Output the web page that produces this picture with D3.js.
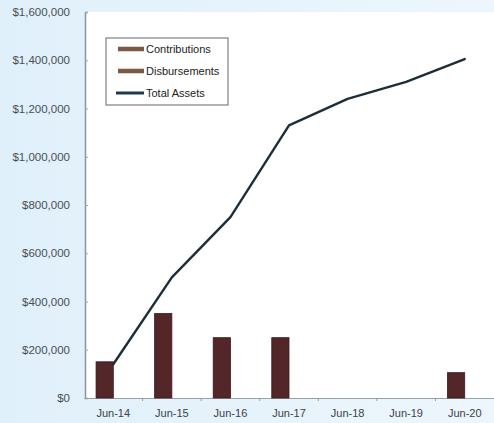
<!DOCTYPE html>
<html>
<head>
<meta charset="utf-8">
<script src="https://cdn.jsdelivr.net/npm/d3@7"></script>
<style>
  html, body { margin: 0; padding: 0; }
  body { width: 494px; height: 423px; overflow: hidden; }
  svg { display: block; }
</style>
</head>
<body>
<svg id="chart" width="494" height="423"></svg>
<script>
// Fund history: annual contributions, disbursements and total assets
const periods = ["Jun-14", "Jun-15", "Jun-16", "Jun-17", "Jun-18", "Jun-19", "Jun-20"];
const contributions = [150000, 350000, 250000, 250000, 0, 0, 105000];
const disbursements = [0, 0, 0, 0, 0, 0, 0];
const totalAssets = [140000, 500000, 750000, 1130000, 1240000, 1310000, 1405000];
const yTicks = [0, 200000, 400000, 600000, 800000, 1000000, 1200000, 1400000, 1600000];
const seriesNames = ["Contributions", "Disbursements", "Total Assets"];

const svg = d3.select("#chart");
const W = 494, H = 423;
const plot = { left: 85, right: 494, top: 12, bottom: 398 };

// Backdrop: pale blue page with a white plotting area
const defs = svg.append("defs");
const grad = defs.append("linearGradient").attr("id", "bg").attr("x1", 0).attr("x2", 1).attr("y1", 0).attr("y2", 0);
grad.append("stop").attr("offset", "0%").attr("stop-color", "#e0f0fa");
grad.append("stop").attr("offset", "100%").attr("stop-color", "#edf6fc");
svg.append("rect").attr("width", W).attr("height", H).attr("fill", "url(#bg)");
svg.append("rect")
  .attr("x", plot.left).attr("y", plot.top)
  .attr("width", plot.right - plot.left).attr("height", plot.bottom - plot.top)
  .attr("fill", "#ffffff");

const x = d3.scaleBand().domain(periods).range([84, 494]).paddingInner(0).paddingOuter(0);
const xSub = d3.scaleBand().domain(["c", "d"]).range([0, x.bandwidth()]).paddingOuter(0.7).paddingInner(0);
const y = d3.scaleLinear().domain([0, 1600000]).range([plot.bottom, plot.top]);

const money = d3.format("$,");
const font = "'Liberation Sans', Arial, sans-serif";

// Y axis
const yAxis = svg.append("g")
  .attr("transform", `translate(${plot.left},0)`)
  .call(d3.axisLeft(y).tickValues(yTicks).tickFormat(money).tickSize(-3).tickPadding(15));
yAxis.select(".domain").attr("stroke", "#8d9499").attr("stroke-width", 1.5);
yAxis.selectAll(".tick line").attr("stroke", "#a0a6aa");
yAxis.selectAll(".tick text")
  .attr("font-family", font).attr("font-size", 11.5).attr("fill", "#4a4f55");

// X axis
const xAxis = svg.append("g")
  .attr("transform", `translate(0,${plot.bottom})`)
  .call(d3.axisBottom(x).tickSize(0).tickPadding(11));
xAxis.select(".domain").attr("stroke", "#9aa0a4").attr("stroke-width", 1.2);
xAxis.selectAll(".tick text")
  .attr("font-family", font).attr("font-size", 11).attr("fill", "#3b4148");
// small marks between categories
xAxis.selectAll(".sep")
  .data(periods.slice(1))
  .join("line")
  .attr("class", "sep")
  .attr("x1", d => x(d)).attr("x2", d => x(d))
  .attr("y1", 0).attr("y2", 3)
  .attr("stroke", "#9aa0a4");

// Bars
const barData = periods.flatMap((p, i) => [
  { period: p, key: "c", value: contributions[i] },
  { period: p, key: "d", value: disbursements[i] }
]).filter(d => d.value > 0);

svg.append("g").selectAll("rect")
  .data(barData)
  .join("rect")
  .attr("x", d => x(d.period) + xSub(d.key))
  .attr("y", d => y(d.value))
  .attr("width", xSub.bandwidth())
  .attr("height", d => y(0) - y(d.value))
  .attr("fill", d => d.key === "c" ? "#532629" : "#7a5a44")
  .attr("stroke", "#3a1a1c").attr("stroke-width", 0.8);

// Total assets line
const line = d3.line()
  .x((d, i) => x(periods[i]) + x.bandwidth() / 2)
  .y(d => y(d));
svg.append("path")
  .datum(totalAssets)
  .attr("d", line)
  .attr("fill", "none")
  .attr("stroke", "#1d2e38")
  .attr("stroke-width", 2.4)
  .attr("stroke-linejoin", "round")
  .attr("stroke-linecap", "round");

// Legend
const legend = svg.append("g").attr("transform", "translate(106,38)");
legend.append("rect")
  .attr("width", 122).attr("height", 67)
  .attr("fill", "#ffffff").attr("stroke", "#7d7f82").attr("stroke-width", 1.2);
const legendColors = ["#7a5a44", "#7a5a44", "#1d3a50"];
const rows = legend.selectAll("g.item")
  .data(seriesNames)
  .join("g")
  .attr("class", "item")
  .attr("transform", (d, i) => `translate(0,${11 + i * 22})`);
rows.append("line")
  .attr("x1", (d, i) => i === 2 ? 10 : 12).attr("x2", 38)
  .attr("y1", 0).attr("y2", 0)
  .attr("stroke", (d, i) => legendColors[i])
  .attr("stroke-width", (d, i) => i === 2 ? 3 : 4.5);
rows.append("text")
  .attr("x", 40).attr("y", 0).attr("dy", "0.35em")
  .attr("font-family", font).attr("font-size", 11).attr("fill", "#222")
  .text(d => d);
</script>
</body>
</html>
